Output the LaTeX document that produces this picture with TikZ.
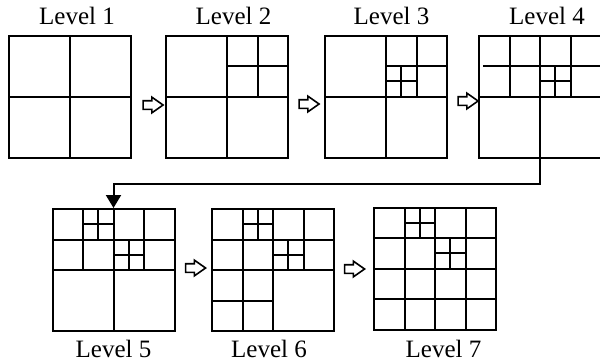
\documentclass[tikz,border=0pt]{standalone}
\usepackage{fontspec}
\setmainfont{Liberation Serif}
\usetikzlibrary{shapes.arrows,arrows.meta,positioning}
\tikzset{
  qbox/.style = {draw, line width=1pt, rectangle, minimum size=61pt, inner sep=0pt},
  qline/.style = {line width=1pt},
  nextarrow/.style = {draw, line width=0.8pt, single arrow, single arrow head extend=1.75pt, single arrow tip angle=70, text height=1.75pt, text depth=1.75pt, text width=0pt, minimum height=10pt, minimum width=0pt, inner sep=0pt},
  lbl/.style = {font=\fontsize{12.5}{15}\selectfont, anchor=base, inner sep=0pt},
  arrow/.style = {line width=1pt, -{Triangle[width=7.5pt,length=6.5pt]}},
  cell/.style = {shift={(#1.center)}, x=7.625pt, y=-7.625pt}
}

\begin{document}
\begin{tikzpicture}[x=0.5pt, y=-0.5pt]
  \useasboundingbox (0,0) rectangle (600,364);
  % boxes
  \node[qbox] (l1) at (70,96.5) {};
  \node[qbox] (l2) at (227,96.5) {};
  \node[qbox] (l3) at (386,96.5) {};
  \node[qbox] (l4) at (540,96.5) {};
  \node[qbox] (l5) at (113.5,270) {};
  \node[qbox] (l6) at (273,270) {};
  \node[qbox] (l7) at (435,268.5) {};
  % labels
  \node[lbl] (t1) at (77,25) {Level 1};
  \node[lbl] (t2) at (233.5,25) {Level 2};
  \node[lbl] (t3) at (391.5,25) {Level 3};
  \node[lbl] (t4) at (547,25) {Level 4};
  \node[lbl] (t5) at (113.5,357) {Level 5};
  \node[lbl] (t6) at (269,357) {Level 6};
  \node[lbl] (t7) at (443.5,357) {Level 7};
  % hollow arrows
  \node[nextarrow] (a1) at (150,105) {};
  \node[nextarrow] (a2) at (306,104) {};
  \node[nextarrow] (a3) at (465,101) {};
  \node[nextarrow] (a5) at (192.5,268) {};
  \node[nextarrow] (a6) at (351.5,269) {};

  % level 1
  \begin{scope}[cell=l1]
    \draw[qline] (0,-4) -- (0,4) (-4,0) -- (4,0);
  \end{scope}
  % level 2
  \begin{scope}[cell=l2]
    \draw[qline] (0,-4) -- (0,4) (-4,0) -- (4,0);
    \draw[qline] (2,-4) -- (2,0) (0,-2) -- (4,-2);
  \end{scope}
  % level 3
  \begin{scope}[cell=l3]
    \draw[qline] (0,-4) -- (0,4) (-4,0) -- (4,0);
    \draw[qline] (2,-4) -- (2,0) (0,-2) -- (4,-2);
    \draw[qline] (1,-2) -- (1,0) (0,-1) -- (2,-1);
  \end{scope}
  % level 4
  \begin{scope}[cell=l4]
    \draw[qline] (0,-4) -- (0,4) (-4,0) -- (4,0);
    \draw[qline] (-2,-4) -- (-2,0) (2,-4) -- (2,0) (-3.75,-2) -- (4,-2);
    \draw[qline] (1,-2) -- (1,0) (0,-1) -- (2,-1);
  \end{scope}
  % level 5
  \begin{scope}[cell=l5]
    \draw[qline] (0,-4) -- (0,4) (-4,0) -- (4,0);
    \draw[qline] (-2,-4) -- (-2,0) (2,-4) -- (2,0) (-4,-2) -- (4,-2);
    \draw[qline] (-1,-4) -- (-1,-2) (-2,-3) -- (0,-3);
    \draw[qline] (1,-2) -- (1,0) (0,-1) -- (2,-1);
  \end{scope}
  % level 6
  \begin{scope}[cell=l6]
    \draw[qline] (0,-4) -- (0,4) (-4,0) -- (4,0);
    \draw[qline] (-2,-4) -- (-2,4) (2,-4) -- (2,0) (-4,-2) -- (4,-2) (-4,2) -- (0,2);
    \draw[qline] (-1,-4) -- (-1,-2) (-2,-3) -- (0,-3);
    \draw[qline] (1,-2) -- (1,0) (0,-1) -- (2,-1);
  \end{scope}
  % level 7
  \begin{scope}[cell=l7]
    \foreach \k in {-2,0,2} {
      \draw[qline] (\k,-4) -- (\k,4) (-4,\k) -- (4,\k);
    }
    \draw[qline] (-1,-4) -- (-1,-2) (-2,-3) -- (0,-3);
    \draw[qline] (1,-2) -- (1,0) (0,-1) -- (2,-1);
  \end{scope}

  % back to the second row
  \draw[arrow] (l4.south) -- ++(0,25.5) -| (l5.north);
\end{tikzpicture}
\end{document}
